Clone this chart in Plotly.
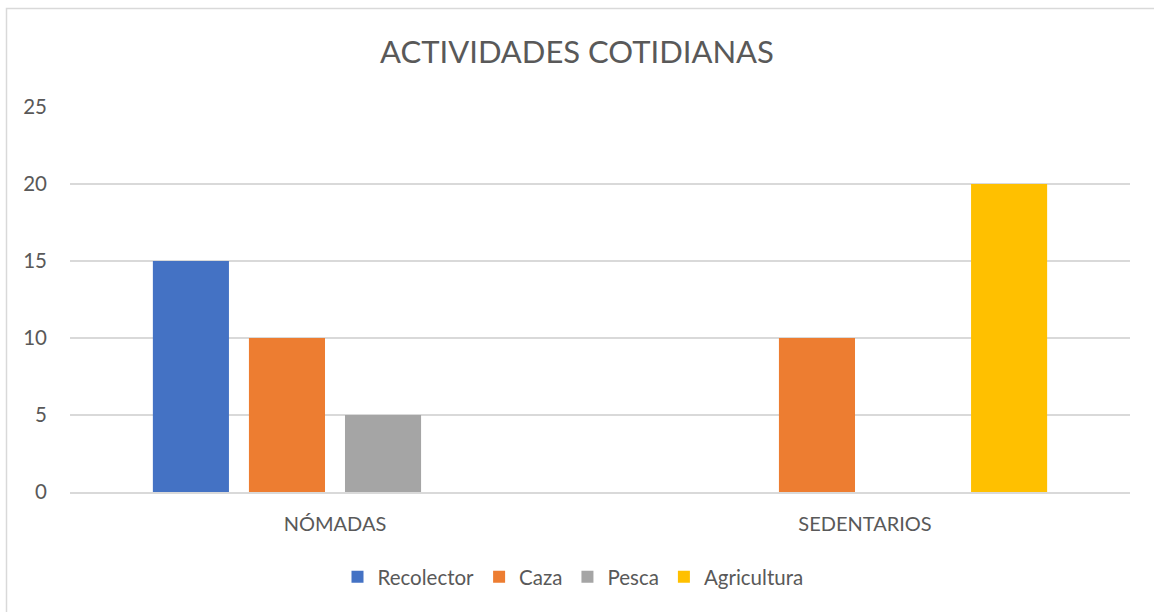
import plotly.graph_objects as go

categories = ["NÓMADAS", "SEDENTARIOS"]
series_names = ["Recolector", "Caza", "Pesca", "Agricultura"]
recolector = [15, 0]
caza = [10, 10]
pesca = [5, 0]
agricultura = [0, 20]
colors = ["#4472C4", "#ED7D31", "#A5A5A5", "#FFC000"]

values = [recolector, caza, pesca, agricultura]

fig = go.Figure()
for name, vals, col in zip(series_names, values, colors):
    fig.add_trace(go.Bar(name=name, x=categories, y=vals, marker=dict(color=col, line=dict(width=0))))

W, H = 1154, 612
ml, mr, mt, mb = 70, 24, 107, 120
pw = W - ml - mr
ph = H - mt - mb

def px2paper_x(px):
    return (px - ml) / pw

def px2paper_y(py):
    return (H - mb - py) / ph

fig.update_layout(
    width=W, height=H,
    margin=dict(l=ml, r=mr, t=mt, b=mb),
    paper_bgcolor="white", plot_bgcolor="white",
    barmode="group", bargap=0.275, bargroupgap=0.208,
    font=dict(family="Lato, Open Sans, sans-serif", color="#595959", size=20),
    title=dict(text="ACTIVIDADES COTIDIANAS", x=0.5, xanchor="center", y=1 - 52 / H, yanchor="middle",
               font=dict(size=31, color="#595959")),
    xaxis=dict(showgrid=False, showline=True, linecolor="#D9D9D9", linewidth=1.5, ticks="",
               tickfont=dict(size=20, color="#595959"), ticklabelstandoff=13),
    yaxis=dict(range=[0, 25], dtick=5, showgrid=True, gridcolor="#D9D9D9", gridwidth=1.5,
               zeroline=False, showline=False, ticks="", tickfont=dict(size=20.5, color="#595959"),
               ticklabelstandoff=22),
    legend=dict(orientation="h", x=0.5 - 27 / pw, xanchor="center", y=px2paper_y(577), yanchor="middle",
                font=dict(size=20.5, color="#595959"), itemwidth=30, traceorder="normal"),
    showlegend=True,
)

fig.add_shape(type="rect", xref="paper", yref="paper",
              x0=px2paper_x(6.5), x1=px2paper_x(1160), y0=px2paper_y(620), y1=px2paper_y(8.5),
              line=dict(color="#D9D9D9", width=1.5), fillcolor="rgba(0,0,0,0)", layer="below")

fig.write_html("out.html", config={"displayModeBar": False},
               post_script="document.body.style.margin='0';document.body.style.overflow='hidden';")
